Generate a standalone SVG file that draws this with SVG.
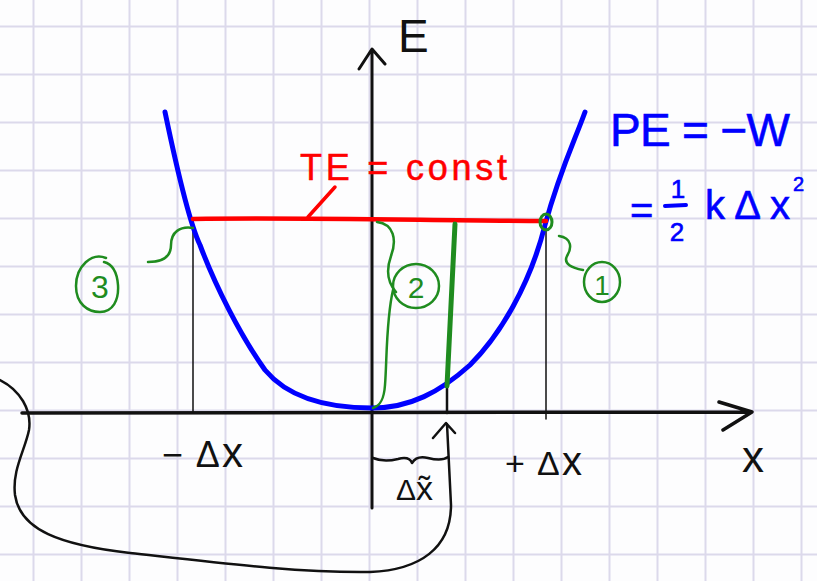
<svg xmlns="http://www.w3.org/2000/svg" width="817" height="581" viewBox="0 0 817 581">
<style>
.grid{stroke:#dcd9eb;stroke-width:2;fill:none}
.ink{fill:none;stroke-linecap:round;stroke-linejoin:round}
.k{stroke:#111}
.r{stroke:#ff0000}
.b{stroke:#0000ff}
.g{stroke:#1f8c1f}
.t{font-family:"Liberation Sans","DejaVu Sans",sans-serif}
.tk{fill:#111}
.tr{fill:#ff0000;stroke:#ff0000;stroke-width:0.5}
.tb{fill:#0000ff;stroke:#0000ff;stroke-width:0.6}
.tg{fill:#1f8c1f}
</style>
<rect width="817" height="581" fill="#fdfdfe"/>
<g id="grid">
<path class="grid" d="M33.5,0V581M81.5,0V581M129.5,0V581M177.5,0V581M225.5,0V581M273.5,0V581M321.5,0V581M369.5,0V581M417.5,0V581M465.5,0V581M513.5,0V581M561.5,0V581M609.5,0V581M657.5,0V581M705.5,0V581M753.5,0V581M801.5,0V581M0,26.5H817M0,74.5H817M0,122.5H817M0,170.5H817M0,218.5H817M0,266.5H817M0,314.5H817M0,362.5H817M0,410.5H817M0,458.5H817M0,506.5H817M0,554.5H817"/>
</g>
<g id="connectors">
<path id="x-axis" class="ink k" stroke-width="3.5" d="M22,413 L751,412 M719,402 L752,412 L723,430"/>
<path id="e-axis" class="ink k" stroke-width="3" d="M372,508 L372,50 M359,69 L372,49 L385,64"/>
<path id="drop-lines" class="ink k" stroke-width="1.5" d="M193,219 V413 M546,222 V419"/>
<path id="drop-tilde" class="ink k" stroke-width="2.5" d="M447,386 V413"/>
<path id="brace" class="ink k" stroke-width="2.5" d="M373,458 C380,461 390,461 398,459 C405,457 410,458 412,463 C415,458 420,456 428,458 C436,460 444,460 448,457"/>
<path id="return-arrow" class="ink k" stroke-width="2.5" d="M0,380 C20,390 32,410 29,430 C25,450 12,470 15,495 C20,530 60,545 130,553 C220,563 300,573 370,572 C420,570 451,548 451,505 L447,424 M433,438 L446,423 L455,433"/>
</g>
<g id="potential-curve">
<path class="ink b" stroke-width="5" d="M165,112 C175,160 188,220 200,245 C215,285 240,335 265,370 C290,400 330,408 372,408 C410,408 440,392 470,365 C500,335 530,285 545,225 C560,170 575,140 585,112"/>
</g>
<g id="total-energy">
<path class="ink r" stroke-width="4.5" d="M193,219 C300,217 450,221 546,221"/>
<path class="ink r" stroke-width="3.5" d="M308,217 L335,187"/>
<text class="t tr" x="300" y="180" font-size="36" textLength="207" lengthAdjust="spacing">TE = const</text>
</g>
<g id="kinetic-marker">
<path class="ink g" stroke-width="5" d="M455,224 L447,386"/>
</g>
<g id="point-1">
<ellipse class="ink g" stroke-width="3" cx="546" cy="222" rx="6" ry="8"/>
<path class="ink g" stroke-width="2.5" d="M559,236 C572,238 572,248 567,256 C563,264 572,268 583,270"/>
<ellipse class="ink g" stroke-width="2.5" cx="602" cy="282" rx="18" ry="20"/>
<text class="t tg" x="602" y="295" font-size="28" text-anchor="middle">1</text>
</g>
<g id="point-2">
<path class="ink g" stroke-width="2.5" d="M377,222 C394,224 397,240 391,256 C386,270 388,283 396,292 M393,290 C386,320 387,360 385,385 C384,400 380,406 373,408"/>
<ellipse class="ink g" stroke-width="2.5" cx="416" cy="286" rx="23" ry="22"/>
<text class="t tg" x="416" y="298" font-size="30" text-anchor="middle">2</text>
</g>
<g id="point-3">
<path class="ink g" stroke-width="2.5" d="M148,262 C162,262 171,257 171,245 C171,232 180,226 193,228"/>
<path class="ink g" stroke-width="2.5" d="M106,258 C92,252 76,266 76,286 C76,304 88,312 100,312 C113,312 119,300 118,285 C117,272 112,264 104,262"/>
<text class="t tg" x="100" y="298" font-size="32" text-anchor="middle">3</text>
</g>
<g id="formula">
<text class="t tb" x="610" y="146" font-size="46" textLength="180" lengthAdjust="spacing">PE = −W</text>
<text class="t tb" x="630" y="224" font-size="40">=</text>
<text class="t tb" x="678" y="198" font-size="26" text-anchor="middle">1</text>
<path class="ink b" stroke-width="4" d="M665,206 L686,205"/>
<text class="t tb" x="677" y="241" font-size="26" text-anchor="middle">2</text>
<text class="t tb" x="705" y="219" font-size="40" textLength="85" lengthAdjust="spacing">kΔx</text>
<text class="t tb" x="793" y="191" font-size="20">2</text>
</g>
<g id="labels">
<text class="t tk" x="398" y="52" font-size="46">E</text>
<text class="t tk" x="742" y="472" font-size="44">x</text>
<text class="t tk" x="162" y="467" font-size="36" textLength="81" lengthAdjust="spacing">− Δ<tspan font-size="42">x</tspan></text>
<text class="t tk" x="505" y="475" font-size="34" textLength="77" lengthAdjust="spacing">+ Δ<tspan font-size="40">x</tspan></text>
<text class="t tk" x="396" y="500" font-size="30">Δ<tspan font-size="34">x̃</tspan></text>
</g>
</svg>
